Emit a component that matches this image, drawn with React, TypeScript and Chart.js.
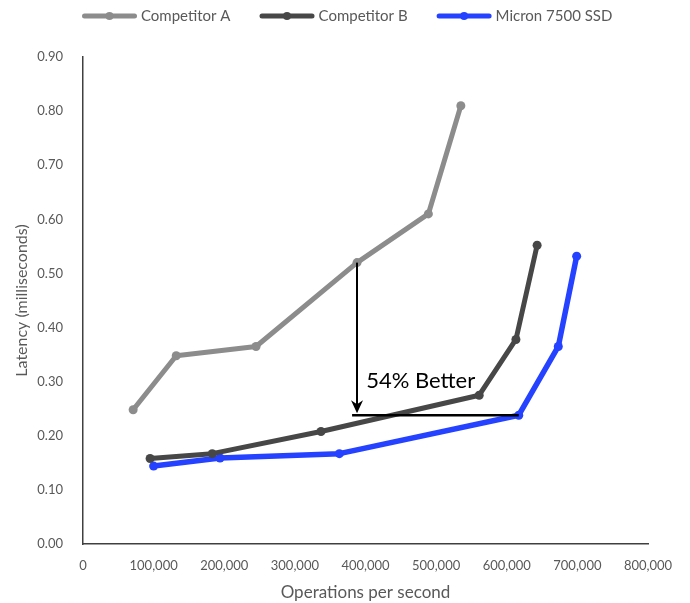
import React, { useEffect, useRef } from "react";
import { Chart, registerables } from "chart.js";

Chart.register(...registerables);

// ---- data ----
const seriesNames = ["Competitor A", "Competitor B", "Micron 7500 SSD"];
const competitorAOps = [71000, 132000, 245000, 388000, 489000, 535000];
const competitorALatency = [0.248, 0.348, 0.365, 0.52, 0.61, 0.81];
const competitorBOps = [95000, 183000, 337000, 561000, 613000, 643000];
const competitorBLatency = [0.158, 0.167, 0.208, 0.275, 0.378, 0.552];
const micronOps = [100000, 194000, 363000, 617000, 673000, 699000];
const micronLatency = [0.144, 0.159, 0.167, 0.238, 0.365, 0.532];
const seriesColors = ["#8c8c8c", "#474747", "#2442ff"];
const seriesLineWidths = [5, 5, 5.5];

const xTickMin = 0;
const xTickMax = 800000;
const xTickStep = 100000;
const yTickMin = 0;
const yTickMax = 0.9;
const yTickStep = 0.1;

const xAxisTitle = "Operations per second";
const yAxisTitle = "Latency (milliseconds)";

const annotationText = "54% Better";
const annotationArrowX = 388000;
const annotationFromY = 0.52;
const annotationToY = 0.238;
const annotationLineStartX = 381000;
const annotationLineEndX = 617000;
const annotationTextX = 401000;
const annotationTextY = 0.288;

const FONT = "Lato, 'Open Sans', sans-serif";
const TEXT_GRAY = "#595959";

const toPoints = (xs: number[], ys: number[]) => xs.map((x, i) => ({ x, y: ys[i] }));

const legendPlugin = {
  id: "customLegend",
  afterDraw(chart: any) {
    const ctx = chart.ctx;
    ctx.save();
    ctx.font = `15px ${FONT}`;
    ctx.textBaseline = "middle";
    ctx.textAlign = "left";
    let x = 82;
    const cy = 16;
    const sample = 55;
    chart.data.datasets.forEach((ds: any) => {
      ctx.strokeStyle = ds.borderColor;
      ctx.lineWidth = 5;
      ctx.lineCap = "round";
      ctx.beginPath();
      ctx.moveTo(x + 2.5, cy);
      ctx.lineTo(x + sample - 2.5, cy);
      ctx.stroke();
      ctx.fillStyle = ds.borderColor;
      ctx.beginPath();
      ctx.arc(x + sample / 2, cy, 4, 0, Math.PI * 2);
      ctx.fill();
      ctx.fillStyle = TEXT_GRAY;
      ctx.fillText(ds.label, x + sample + 4, cy);
      x += sample + 4 + ctx.measureText(ds.label).width + 29;
    });
    ctx.restore();
  },
};

const annotationPlugin = {
  id: "betterAnnotation",
  afterDatasetsDraw(chart: any) {
    const { ctx, scales } = chart;
    const xs = scales.x;
    const ys = scales.y;
    const ax = xs.getPixelForValue(annotationArrowX);
    const y1 = ys.getPixelForValue(annotationFromY);
    const y2 = ys.getPixelForValue(annotationToY);
    const lx1 = xs.getPixelForValue(annotationLineStartX);
    const lx2 = xs.getPixelForValue(annotationLineEndX);
    ctx.save();
    ctx.strokeStyle = "#000";
    ctx.fillStyle = "#000";
    // horizontal line
    ctx.lineWidth = 2.5;
    ctx.beginPath();
    ctx.moveTo(lx1, y2);
    ctx.lineTo(lx2, y2);
    ctx.stroke();
    // vertical arrow
    const tipY = y2 - 2;
    ctx.lineWidth = 2;
    ctx.beginPath();
    ctx.moveTo(ax, y1);
    ctx.lineTo(ax, tipY - 8);
    ctx.stroke();
    ctx.beginPath();
    ctx.moveTo(ax, tipY);
    ctx.lineTo(ax - 6, tipY - 13);
    ctx.lineTo(ax, tipY - 9);
    ctx.lineTo(ax + 6, tipY - 13);
    ctx.closePath();
    ctx.fill();
    // text
    ctx.font = `22px ${FONT}`;
    ctx.textAlign = "left";
    ctx.textBaseline = "alphabetic";
    ctx.fillText(annotationText, xs.getPixelForValue(annotationTextX), ys.getPixelForValue(annotationTextY));
    ctx.restore();
  },
};

export default function App() {
  const canvasRef = useRef<HTMLCanvasElement | null>(null);

  useEffect(() => {
    if (!canvasRef.current) return;
    const seriesX = [competitorAOps, competitorBOps, micronOps];
    const seriesY = [competitorALatency, competitorBLatency, micronLatency];
    const chart = new Chart(canvasRef.current, {
      type: "line",
      data: {
        datasets: seriesNames.map((name, i) => ({
          label: name,
          data: toPoints(seriesX[i], seriesY[i]),
          borderColor: seriesColors[i],
          backgroundColor: seriesColors[i],
          borderWidth: seriesLineWidths[i],
          borderJoinStyle: "round",
          borderCapStyle: "round",
          pointRadius: 4.5,
          pointBorderWidth: 0,
          pointBackgroundColor: seriesColors[i],
          tension: 0,
          fill: false,
        })),
      },
      options: {
        animation: false,
        responsive: true,
        maintainAspectRatio: false,
        layout: { padding: { top: 57, right: 42, left: 0, bottom: 0 } },
        plugins: {
          legend: { display: false },
          tooltip: { enabled: false },
        },
        scales: {
          x: {
            type: "linear",
            min: xTickMin,
            max: xTickMax,
            grid: { display: false, drawTicks: false },
            border: { display: true, color: "#404040", width: 1.5 },
            ticks: {
              stepSize: xTickStep,
              padding: 14,
              color: TEXT_GRAY,
              font: { family: FONT, size: 13 },
              maxRotation: 0,
              callback: (v: any) => Number(v).toLocaleString("en-US"),
            },
            title: {
              display: true,
              text: xAxisTitle,
              color: TEXT_GRAY,
              font: { family: FONT, size: 17 },
              padding: { top: 0, bottom: 0 },
            },
            afterFit: (scale: any) => {
              scale.height = 59;
            },
          },
          y: {
            type: "linear",
            min: yTickMin,
            max: yTickMax,
            grid: { display: false, drawTicks: false },
            border: { display: true, color: "#404040", width: 1.5 },
            ticks: {
              stepSize: yTickStep,
              padding: 20,
              color: TEXT_GRAY,
              font: { family: FONT, size: 13 },
              callback: (v: any) => Number(v).toFixed(2),
            },
            title: {
              display: true,
              text: yAxisTitle,
              color: TEXT_GRAY,
              font: { family: FONT, size: 16 },
              padding: { top: 12, bottom: 0 },
            },
            afterFit: (scale: any) => {
              scale.width = 83;
            },
          },
        },
      },
      plugins: [legendPlugin, annotationPlugin],
    });
    return () => chart.destroy();
  }, []);

  return (
    <div style={{ position: "fixed", left: 0, top: 0, width: 690, height: 603, background: "#fff" }}>
      <canvas ref={canvasRef} />
    </div>
  );
}
